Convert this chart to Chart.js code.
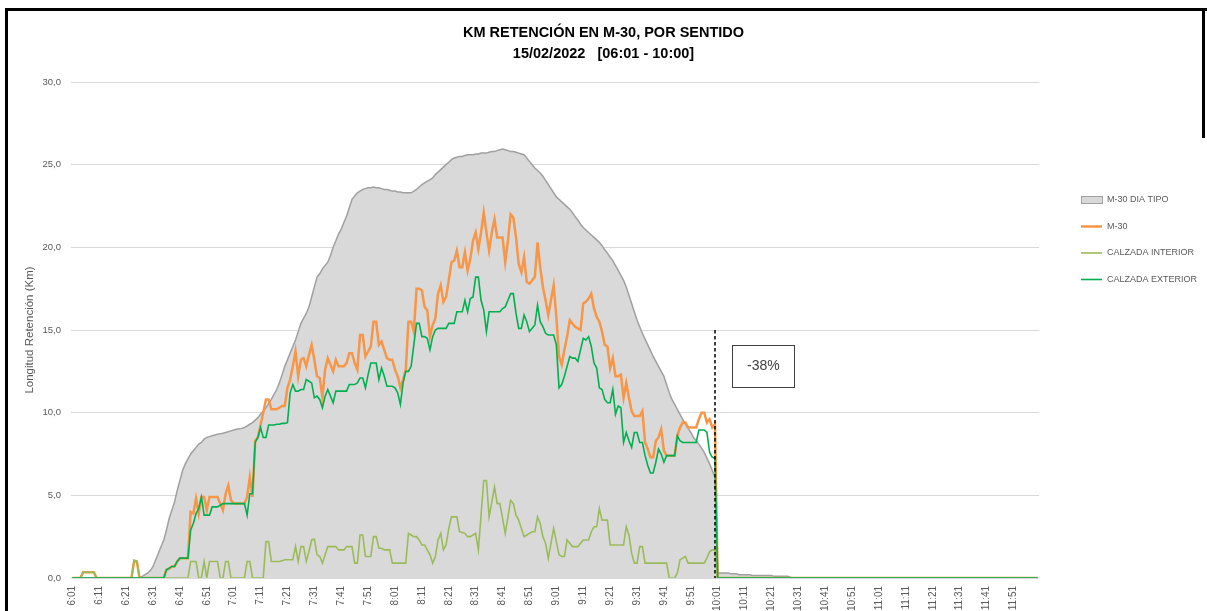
<!DOCTYPE html>
<html>
<head>
<meta charset="utf-8">
<script src="https://cdn.jsdelivr.net/npm/chart.js@4.4.1/dist/chart.umd.min.js"></script>
<style>
html,body{margin:0;padding:0;background:#fff;overflow:hidden}
#wrap{position:relative;width:1207px;height:611px}
canvas{position:absolute;left:0;top:0}
.bl{position:absolute;left:5px;top:8px;width:3px;height:603px;background:#000}
.bt{position:absolute;left:5px;top:8px;width:1202px;height:3px;background:#000}
.br{position:absolute;left:1202px;top:8px;width:3px;height:130px;background:#000}
</style>
</head>
<body>
<div id="wrap">
<canvas id="c" width="1207" height="611"></canvas>
<div class="bl"></div><div class="bt"></div><div class="br"></div>
</div>
<script>
// ---- titles / labels ----
const titleLines = ['KM RETENCIÓN EN M-30, POR SENTIDO', '15/02/2022   [06:01 - 10:00]'];
const yTitle = 'Longitud Retención (Km)';
const seriesNames = ['M-30 DIA TIPO', 'M-30', 'CALZADA INTERIOR', 'CALZADA EXTERIOR'];

// ---- x axis: minutes since 06:01 ----
const tickMinutes = [0,10,20,30,40,50,60,70,80,90,100,110,120,130,140,150,160,170,
  180,190,200,210,220,230,240,250,260,270,280,290,300,310,320,330,340,350];
const tickLabels = ['6:01','6:11','6:21','6:31','6:41','6:51','7:01','7:11','7:21','7:31','7:41','7:51',
  '8:01','8:11','8:21','8:31','8:41','8:51','9:01','9:11','9:21','9:31','9:41','9:51',
  '10:01','10:11','10:21','10:31','10:41','10:51','11:01','11:11','11:21','11:31','11:41','11:51'];
const yTicks = [0,5,10,15,20,25,30];

// ---- M-30 DIA TIPO, one value per minute from 06:01 to 10:00 ----
const tipoKm = [
  0,0,0,0,0,0,0,0,0,0,
  0,0,0,0,0,0,0,0,0,0,
  0,0,0,0,0,0.05,0.1,0.2,0.3,0.45,
  0.7,1.1,1.5,1.9,2.3,2.9,3.6,4.1,4.6,5.3,
  5.9,6.5,6.9,7.2,7.5,7.7,7.9,8.1,8.2,8.4,
  8.5,8.55,8.6,8.65,8.7,8.72,8.75,8.8,8.85,8.9,
  8.95,9.0,9.02,9.05,9.1,9.2,9.3,9.4,9.55,9.7,
  9.9,10.1,10.3,10.55,10.8,11.1,11.4,11.8,12.3,12.8,
  13.2,13.6,14.0,14.4,14.9,15.4,15.7,16.0,16.4,17.0,
  17.6,18.2,18.4,18.7,18.9,19.1,19.5,20.0,20.4,20.8,
  21.1,21.5,21.9,22.4,22.9,23.1,23.3,23.4,23.5,23.55,
  23.6,23.6,23.65,23.6,23.6,23.55,23.5,23.5,23.45,23.4,
  23.4,23.35,23.35,23.3,23.3,23.3,23.3,23.4,23.5,23.65,
  23.8,23.9,24.0,24.1,24.2,24.4,24.55,24.7,24.85,25.0,
  25.15,25.3,25.4,25.45,25.5,25.5,25.55,25.6,25.6,25.6,
  25.65,25.65,25.7,25.7,25.7,25.75,25.8,25.8,25.85,25.9,
  25.95,25.9,25.85,25.8,25.8,25.75,25.7,25.65,25.6,25.4,
  25.2,25.0,24.8,24.65,24.5,24.3,24.05,23.8,23.55,23.3,
  23.05,22.9,22.75,22.6,22.45,22.3,22.1,21.85,21.65,21.4,
  21.2,21.05,20.9,20.75,20.6,20.45,20.3,20.1,19.85,19.65,
  19.4,19.2,18.9,18.6,18.3,18.0,17.6,17.1,16.6,16.1,
  15.6,15.2,14.8,14.45,14.1,13.75,13.4,13.1,12.8,12.5,
  12.2,11.7,11.2,10.8,10.5,10.2,9.9,9.6,9.3,9.05,
  8.8,8.5,8.3,8.1,7.85,7.6,7.25,6.9,6.5,6.1
];
// DIA TIPO after 10:00 (from 10:01)
const tipoTail = [0.3,0.3,0.3,0.3,0.3,0.25,0.25,0.25,0.2,0.2,0.2,0.2,0.2,0.15,0.15,
  0.15,0.15,0.15,0.15,0.15,0.15,0.1,0.1,0.1,0.1,0.1,0.1,0.05,0,0];

// ---- M-30 ----
const m30Km = [
  0,0,0,0,0.35,0.35,0.35,0.35,0.35,0,
  0,0,0,0,0,0,0,0,0,0,
  0,0,0,1.05,1.0,0,0,0,0,0,
  0,0,0,0,0,0.5,0.55,0.7,0.7,1.0,
  1.2,1.2,1.2,1.2,4.0,3.9,4.8,3.9,4.9,4.9,
  4.1,4.9,4.9,4.9,4.9,4.5,4.1,5.1,5.6,4.7,
  4.5,4.5,4.5,4.5,4.5,4.9,6.1,4.9,8.3,8.5,
  9.25,10.0,10.8,10.8,10.2,10.2,10.2,10.3,10.4,10.4,
  11.5,12.0,12.8,13.7,12.2,13.2,13.3,12.8,13.5,14.1,
  13.2,12.2,12.1,10.95,12.6,13.3,12.9,12.5,13.2,12.8,
  12.8,12.8,13.0,13.6,13.6,13.0,12.6,14.7,14.7,13.4,
  13.7,14.0,15.5,15.5,14.1,14.3,13.8,13.3,13.2,13.2,
  12.6,12.2,11.5,12.0,12.6,15.5,15.5,14.9,17.5,17.5,
  17.4,16.4,16.2,14.6,15.3,15.7,17.2,17.7,16.7,17.0,
  18.0,19.1,19.2,19.8,18.8,18.8,19.7,18.6,19.3,20.4,
  20.9,19.9,20.9,22.1,20.9,19.8,20.9,21.7,20.6,20.6,
  20.6,19.1,20.4,22.0,21.8,20.6,19.0,18.5,19.4,17.9,
  17.8,18.0,18.2,20.3,18.8,17.6,16.8,15.9,16.8,17.7,
  15.8,13.4,12.9,13.8,14.6,15.6,15.4,15.2,15.1,15.0,
  16.6,16.7,16.9,17.2,16.3,15.8,15.5,14.9,14.1,14.0,
  12.7,13.3,12.2,12.2,12.3,10.9,11.8,10.9,10.1,9.8,
  9.8,9.8,10.1,8.2,7.8,7.3,7.3,8.3,8.5,9.0,
  7.7,7.4,7.4,7.4,7.4,8.6,9.1,9.4,9.4,9.1,
  9.1,9.1,9.1,9.6,10.0,10.0,9.4,9.6,9.1,9.3
];

// ---- CALZADA INTERIOR ----
const intKm = [
  0,0,0,0,0.35,0.35,0.35,0.35,0.35,0,
  0,0,0,0,0,0,0,0,0,0,
  0,0,0,1.05,1.0,0,0,0,0,0,
  0,0,0,0,0,0,0,0,0,0,
  0,0,0,0,1.0,1.0,1.0,0,0,1.0,
  0,1.0,1.0,1.0,1.0,0,0,1.0,1.0,0,
  0,0,0,0,0,1.0,1.0,0,0,0,
  0,0,2.2,2.2,1.0,1.0,1.0,1.0,1.05,1.1,
  1.1,1.1,1.1,1.9,1.0,1.9,1.9,1.0,1.6,2.3,
  2.35,1.4,1.3,0.9,1.4,1.9,1.9,1.9,1.9,1.7,
  1.7,1.7,1.9,1.9,1.9,0.9,0.9,2.6,2.6,1.3,
  1.3,1.3,2.5,2.5,1.8,1.8,1.7,1.7,1.7,0.9,
  0.9,0.9,0.9,0.9,0.9,2.7,2.6,2.5,2.5,2.3,
  2.0,2.0,1.7,1.4,0.9,1.3,2.3,2.7,1.7,2.0,
  3.0,3.7,3.7,3.7,2.8,2.75,2.7,2.5,2.5,2.6,
  2.7,1.7,3.8,5.9,5.9,3.7,4.6,5.5,4.5,4.5,
  3.6,2.7,3.7,4.7,4.5,3.8,3.5,3.0,2.5,2.6,
  2.7,2.8,2.8,3.7,3.3,2.5,2.1,1.2,2.1,3.0,
  2.2,1.4,1.3,1.3,2.3,2.1,1.9,1.9,1.9,2.1,
  2.3,2.3,2.3,2.8,3.1,3.1,4.2,3.5,3.5,3.5,
  2.0,2.0,2.0,2.0,2.0,2.0,3.1,2.6,1.5,0.9,
  0.9,1.9,1.9,0.9,0.9,0.9,0.9,0.9,0.9,0.9,
  0.9,0.9,0,0,0,0.3,1.1,1.2,1.3,0.9,
  0.9,0.9,0.9,0.9,0.9,0.9,1.2,1.6,1.7,1.7
];

// ---- CALZADA EXTERIOR ----
const extKm = [
  0,0,0,0,0,0,0,0,0,0,
  0,0,0,0,0,0,0,0,0,0,
  0,0,0,0,0,0,0,0,0,0,
  0,0,0,0,0,0.5,0.6,0.7,0.7,1.0,
  1.2,1.2,1.2,1.2,2.9,3.3,3.9,4.2,4.9,3.8,
  3.8,3.8,4.3,4.3,4.3,4.4,4.5,4.5,4.5,4.5,
  4.5,4.5,4.5,4.5,4.5,3.8,5.1,5.1,8.2,8.5,
  9.1,8.5,8.5,9.25,9.25,9.25,9.3,9.3,9.35,9.35,
  9.4,11.2,11.7,11.3,11.3,11.4,11.4,12.0,11.9,11.8,
  10.9,11.0,10.8,10.3,11.0,11.4,11.0,10.6,11.3,11.3,
  11.3,11.3,11.3,11.7,11.7,11.7,11.8,12.1,12.1,11.5,
  12.3,13.0,13.0,13.0,12.0,12.7,12.2,11.6,11.6,11.6,
  11.5,11.2,10.5,11.8,12.5,12.5,12.8,14.1,15.4,15.4,
  14.6,14.6,14.5,13.8,14.6,15.0,15.1,15.1,15.1,15.1,
  15.4,15.4,15.4,16.1,16.1,16.1,16.8,16.1,16.9,17.0,
  18.2,18.2,16.8,16.2,14.9,16.1,16.1,16.1,16.1,16.1,
  16.3,16.4,16.8,17.2,17.2,16.0,15.1,15.1,15.9,15.5,
  14.9,15.1,15.3,16.5,15.5,15.2,14.8,14.7,14.7,14.7,
  14.1,11.5,11.7,12.2,12.8,13.4,13.3,13.3,13.1,13.8,
  14.5,14.4,14.6,14.0,13.0,12.7,11.5,11.4,10.8,10.6,
  10.6,11.4,9.9,10.4,10.3,8.2,8.8,8.3,7.9,8.8,
  8.8,8.2,8.2,7.4,6.8,6.35,6.35,7.0,7.8,7.5,
  7.0,7.4,7.4,7.4,7.4,8.6,8.3,8.2,8.2,8.2,
  8.2,8.2,8.2,8.95,8.95,8.95,8.8,7.6,7.3,7.25
];

// values from 10:01 to the end of the axis
const closeMinutes = [240, 359];
const closeKm = [0, 0];

// annotation: cut at 10:00 and comparison label
const cutMinute = 239;
const cutKm = 15;
const noteText = '-38%';
const noteMinutes = [245.5, 268.5];
const noteKm = [14.1, 11.55];

// ---- build datasets ----
const toPoints = (vals, start) => vals.map((v, k) => ({x: start + k, y: v}));
const closing = closeMinutes.map((m, k) => ({x: m, y: closeKm[k]}));
const tipoData = toPoints(tipoKm, 0).concat(toPoints(tipoTail, 240), [closing[1]]);
const m30Data = toPoints(m30Km, 0).concat(closing);
const intData = toPoints(intKm, 0).concat(closing);
const extData = toPoints(extKm, 0).concat(closing);

const FONT = "'Liberation Sans', Arial, sans-serif";
const GREY_TXT = '#595959';

const sideLegend = {
  id: 'sideLegend',
  afterDraw(chart) {
    const ctx = chart.ctx;
    const ca = chart.chartArea;
    const x0 = ca.right + 42, x1 = ca.right + 63, tx = ca.right + 68;
    const yStart = ca.top + 118, gap = 26.5;
    ctx.save();
    ctx.font = '9px ' + FONT;
    ctx.textBaseline = 'middle';
    ctx.textAlign = 'left';
    chart.data.datasets.forEach((ds, k) => {
      const y = yStart + k * gap;
      if (ds.fill) {
        ctx.fillStyle = ds.backgroundColor;
        ctx.fillRect(x0, y - 3.5, x1 - x0, 7);
        ctx.strokeStyle = ds.borderColor;
        ctx.lineWidth = 1;
        ctx.strokeRect(x0 + 0.5, y - 3.5, x1 - x0, 7);
      } else {
        ctx.strokeStyle = ds.borderColor;
        ctx.lineWidth = ds.borderWidth;
        ctx.beginPath();
        ctx.moveTo(x0, y);
        ctx.lineTo(x1, y);
        ctx.stroke();
      }
      ctx.fillStyle = GREY_TXT;
      ctx.fillText(ds.label, tx, y);
    });
    ctx.restore();
  }
};

const cutNote = {
  id: 'cutNote',
  afterDatasetsDraw(chart) {
    const ctx = chart.ctx;
    const xs = chart.scales.x, ys = chart.scales.y;
    const xc = xs.getPixelForValue(cutMinute);
    ctx.save();
    ctx.strokeStyle = '#000';
    ctx.lineWidth = 1.5;
    ctx.setLineDash([3.5, 2.5]);
    ctx.beginPath();
    ctx.moveTo(xc, ys.getPixelForValue(cutKm));
    ctx.lineTo(xc, ys.getPixelForValue(0));
    ctx.stroke();
    ctx.setLineDash([]);
    const bx0 = xs.getPixelForValue(noteMinutes[0]), bx1 = xs.getPixelForValue(noteMinutes[1]);
    const by0 = ys.getPixelForValue(noteKm[0]), by1 = ys.getPixelForValue(noteKm[1]);
    ctx.fillStyle = '#fff';
    ctx.fillRect(bx0, by0, bx1 - bx0, by1 - by0);
    ctx.strokeStyle = '#404040';
    ctx.lineWidth = 1;
    ctx.strokeRect(Math.round(bx0) + 0.5, Math.round(by0) + 0.5, Math.round(bx1 - bx0), Math.round(by1 - by0));
    ctx.fillStyle = '#404040';
    ctx.font = '14px ' + FONT;
    ctx.textAlign = 'center';
    ctx.textBaseline = 'middle';
    ctx.fillText(noteText, (bx0 + bx1) / 2, (by0 + by1) / 2 + 0.5);
    ctx.restore();
  }
};

Chart.defaults.font.family = FONT;

new Chart(document.getElementById('c'), {
  type: 'line',
  data: {
    datasets: [
      {label: seriesNames[0], data: tipoData, borderColor: '#a0a0a0', backgroundColor: '#d9d9d9',
       fill: 'origin', borderWidth: 1.5, pointRadius: 0, tension: 0, order: 4},
      {label: seriesNames[1], data: m30Data, borderColor: '#f79646', backgroundColor: '#f79646',
       fill: false, borderWidth: 2.5, pointRadius: 0, tension: 0, order: 3},
      {label: seriesNames[2], data: intData, borderColor: '#9bbb59', backgroundColor: '#9bbb59',
       fill: false, borderWidth: 1.6, pointRadius: 0, tension: 0, order: 2},
      {label: seriesNames[3], data: extData, borderColor: '#00b050', backgroundColor: '#00b050',
       fill: false, borderWidth: 1.6, pointRadius: 0, tension: 0, order: 1}
    ]
  },
  options: {
    responsive: false,
    animation: false,
    devicePixelRatio: 1,
    events: [],
    layout: {padding: {top: 22, left: 0, right: 0, bottom: 0}},
    plugins: {
      legend: {display: false},
      tooltip: {enabled: false},
      title: {
        display: true,
        text: titleLines,
        color: '#000',
        font: {size: 14.5, weight: 'bold', family: FONT, lineHeight: 21 / 14.5},
        padding: {top: 0, bottom: 18}
      }
    },
    scales: {
      x: {
        type: 'linear',
        min: -0.5,
        max: 359.5,
        afterBuildTicks: (s) => { s.ticks = tickMinutes.map(v => ({value: v})); },
        afterFit: (s) => { s.height = 33; },
        grid: {display: false},
        border: {display: false},
        ticks: {
          autoSkip: false,
          minRotation: 90,
          maxRotation: 90,
          padding: 0,
          color: GREY_TXT,
          font: {size: 10},
          callback: (v, i) => tickLabels[i]
        }
      },
      y: {
        type: 'linear',
        position: 'left',
        min: 0,
        max: 30,
        afterBuildTicks: (s) => { s.ticks = yTicks.map(v => ({value: v})); },
        afterFit: (s) => { s.width = 71; },
        grid: {color: '#d9d9d9', lineWidth: 1, drawTicks: false},
        border: {display: false},
        ticks: {
          padding: 10,
          color: GREY_TXT,
          font: {size: 9.5},
          callback: (v) => v.toFixed(1).replace('.', ',')
        },
        title: {
          display: true,
          text: yTitle,
          color: GREY_TXT,
          font: {size: 11.5},
          padding: {top: 23, bottom: 0}
        }
      },
      side: {
        type: 'linear',
        position: 'right',
        display: true,
        afterFit: (s) => { s.width = 168; },
        grid: {display: false, drawTicks: false},
        border: {display: false},
        ticks: {display: false}
      }
    }
  },
  plugins: [cutNote, sideLegend]
});
</script>
</body>
</html>
